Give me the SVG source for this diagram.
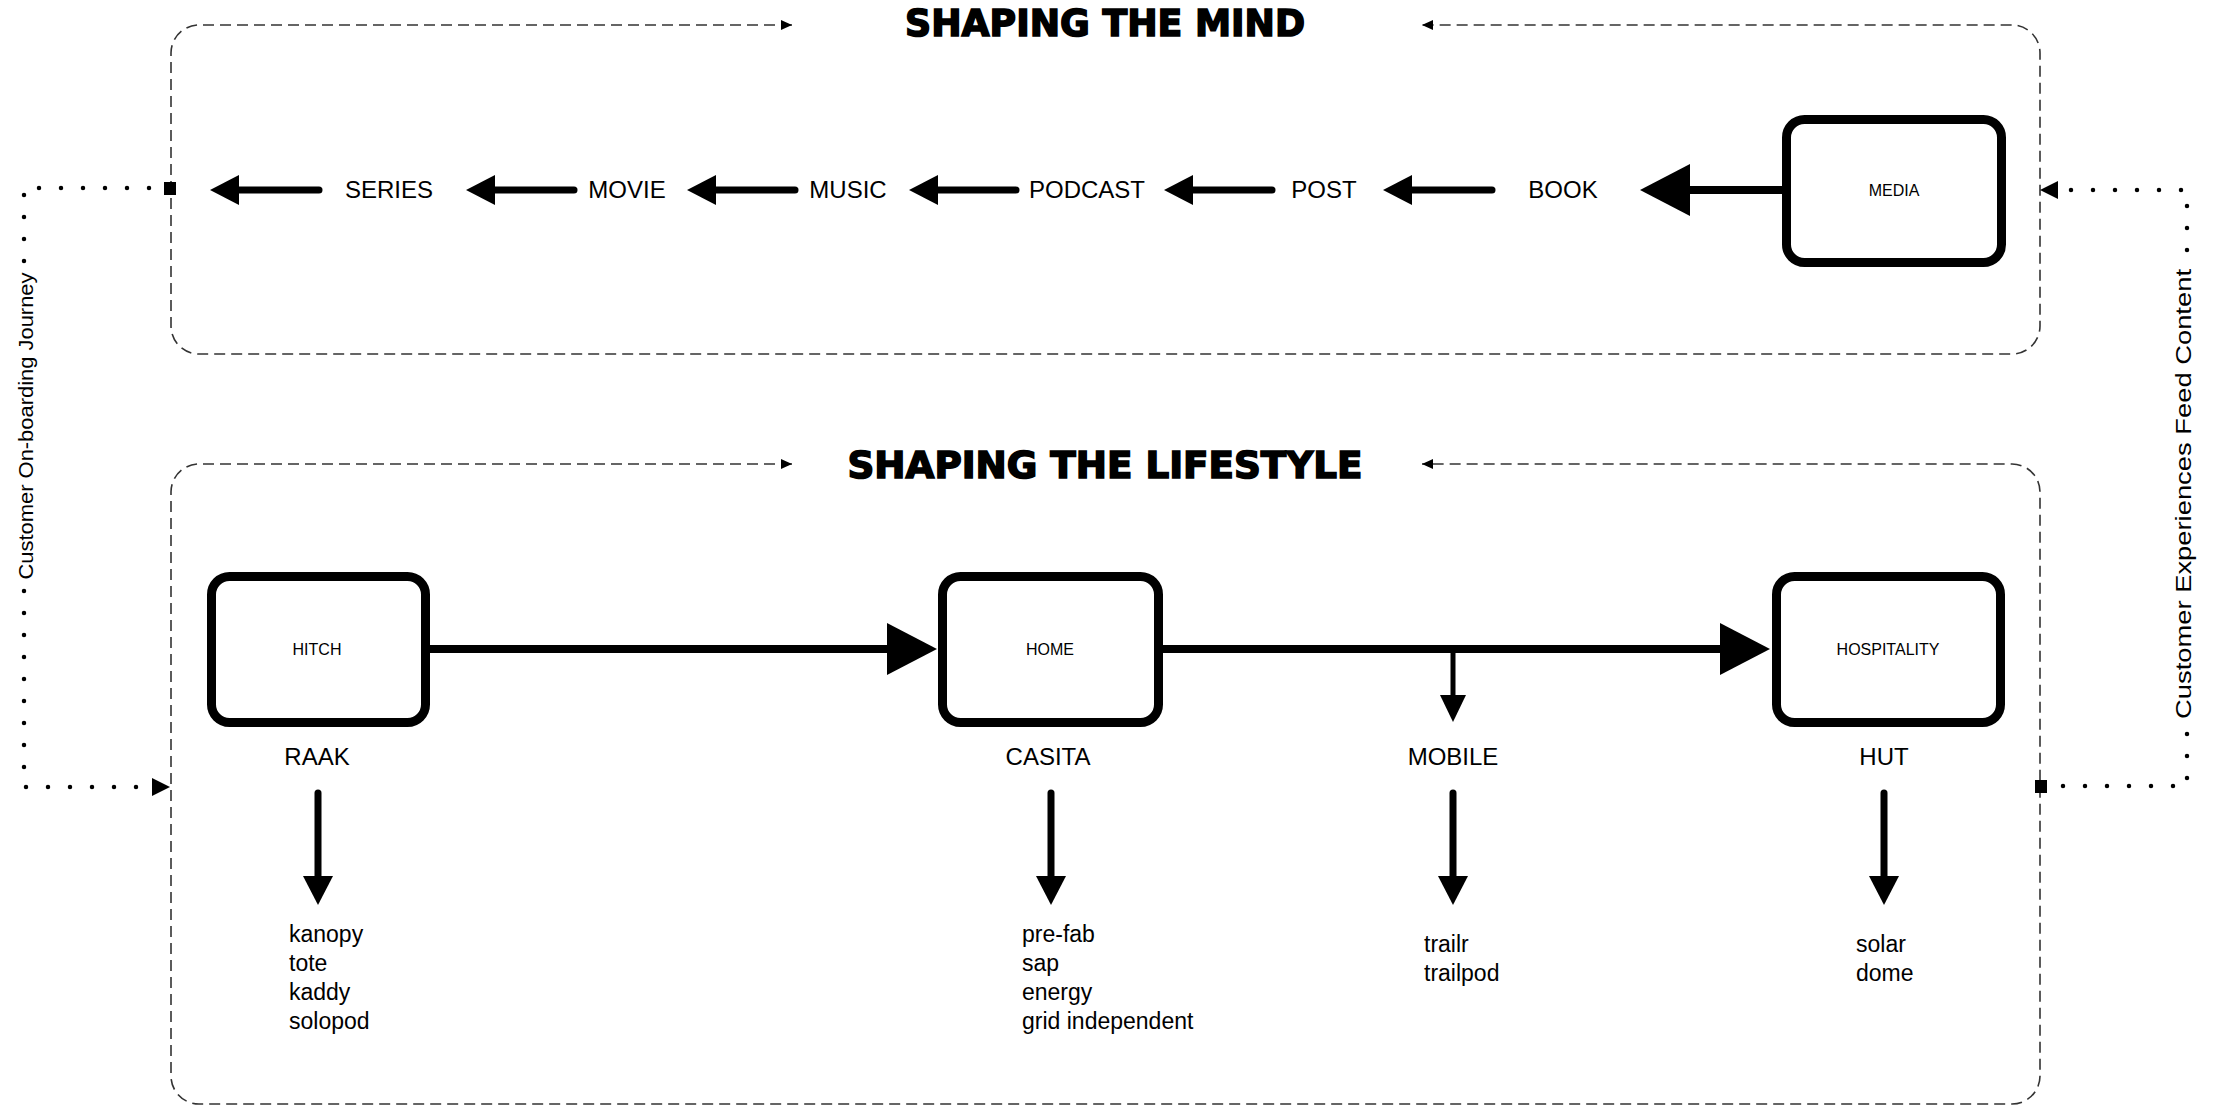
<svg xmlns="http://www.w3.org/2000/svg" width="2218" height="1108" viewBox="0 0 2218 1108">
<style>
.lbl{font-family:"Liberation Sans",Arial,sans-serif;font-size:24px;fill:#000;text-anchor:middle}
.lst{font-family:"Liberation Sans",Arial,sans-serif;font-size:23px;fill:#000}
.box{fill:#fff;stroke:#000;stroke-width:9}
.btxt{font-family:"Liberation Sans",Arial,sans-serif;font-size:16px;fill:#000;text-anchor:middle}
.title{font-family:"DejaVu Sans",sans-serif;font-weight:bold;font-size:37px;fill:#000;stroke:#000;stroke-width:1.6;text-anchor:middle}
.side{font-family:"Liberation Sans",Arial,sans-serif;fill:#000;text-anchor:middle}
.dash{fill:none;stroke:#333;stroke-width:1.6;stroke-dasharray:11 6}
.dot{fill:none;stroke:#000;stroke-width:4.5;stroke-linecap:round;stroke-dasharray:0 22}
.thick{fill:none;stroke:#000;stroke-width:7;stroke-linecap:round}
.main{fill:none;stroke:#000;stroke-width:8}
</style>
<defs>
<marker id="aSm" markerUnits="userSpaceOnUse" viewBox="0 0 29 30" markerWidth="29" markerHeight="30" refX="1" refY="15" orient="auto"><path d="M0,0 L29,15 L0,30 z" fill="#000"/></marker>
<marker id="aBig" markerUnits="userSpaceOnUse" viewBox="0 0 50 52" markerWidth="50" markerHeight="52" refX="1" refY="26" orient="auto"><path d="M0,0 L50,26 L0,52 z" fill="#000"/></marker>
<marker id="aMid" markerUnits="userSpaceOnUse" viewBox="0 0 27 26" markerWidth="27" markerHeight="26" refX="1" refY="13" orient="auto"><path d="M0,0 L27,13 L0,26 z" fill="#000"/></marker>
<marker id="aDash" markerUnits="userSpaceOnUse" viewBox="0 0 11 10" markerWidth="11" markerHeight="10" refX="11" refY="5" orient="auto-start-reverse"><path d="M0,0 L11,5 L0,10 z" fill="#000"/></marker>
<marker id="aDot" markerUnits="userSpaceOnUse" viewBox="0 0 18 18" markerWidth="18" markerHeight="18" refX="0" refY="9" orient="auto"><path d="M0,0 L18,9 L0,18 z" fill="#000"/></marker>
</defs>

<g id="frames">
<path class="dash" d="M792 25 H199 A28 28 0 0 0 171 53 V326 A28 28 0 0 0 199 354 H2012 A28 28 0 0 0 2040 326 V53 A28 28 0 0 0 2012 25 H1422" marker-start="url(#aDash)" marker-end="url(#aDash)"/>
<path class="dash" d="M792 464 H199 A28 28 0 0 0 171 492 V1076 A28 28 0 0 0 199 1104 H2012 A28 28 0 0 0 2040 1076 V492 A28 28 0 0 0 2012 464 H1422" marker-start="url(#aDash)" marker-end="url(#aDash)"/>
<text class="title" x="1105" y="36" textLength="400" lengthAdjust="spacingAndGlyphs">SHAPING THE MIND</text>
<text class="title" x="1105" y="478" textLength="515" lengthAdjust="spacingAndGlyphs">SHAPING THE LIFESTYLE</text>
</g>

<g id="connectors">
<path class="thick" d="M319 190 H238" marker-end="url(#aSm)"/>
<path class="thick" d="M574 190 H494" marker-end="url(#aSm)"/>
<path class="thick" d="M795 190 H715" marker-end="url(#aSm)"/>
<path class="thick" d="M1016 190 H937" marker-end="url(#aSm)"/>
<path class="thick" d="M1272 190 H1192" marker-end="url(#aSm)"/>
<path class="thick" d="M1492 190 H1411" marker-end="url(#aSm)"/>
<path class="main" d="M1782 190 H1689" marker-end="url(#aBig)"/>
<path class="main" d="M428 649 H888" marker-end="url(#aBig)"/>
<path class="main" d="M1163 649 H1721" marker-end="url(#aBig)"/>
<path fill="none" stroke="#000" stroke-width="5" d="M1453 649 V696" marker-end="url(#aMid)"/>
<path class="thick" d="M318 793 V877" marker-end="url(#aSm)"/>
<path class="thick" d="M1051 793 V877" marker-end="url(#aSm)"/>
<path class="thick" d="M1453 793 V877" marker-end="url(#aSm)"/>
<path class="thick" d="M1884 793 V877" marker-end="url(#aSm)"/>
<path class="dot" d="M149 188 H24 V787 H152" marker-end="url(#aDot)"/>
<rect x="164" y="182" width="12" height="13" fill="#000"/>
<path class="dot" d="M2063 786 H2187 V190 H2058" marker-end="url(#aDot)"/>
<rect x="2035" y="780" width="12" height="13" fill="#000"/>
<rect x="8" y="268" width="32" height="318" fill="#fff"/>
<text class="side" font-size="21" transform="translate(33 426) rotate(-90)" textLength="307" lengthAdjust="spacingAndGlyphs">Customer On-boarding Journey</text>
<rect x="2170" y="264" width="32" height="460" fill="#fff"/>
<text class="side" font-size="22" transform="translate(2191 494) rotate(-90)" textLength="450" lengthAdjust="spacingAndGlyphs">Customer Experiences Feed Content</text>
</g>

<g id="row-labels">
<text class="lbl" x="389" y="198">SERIES</text>
<text class="lbl" x="627" y="198">MOVIE</text>
<text class="lbl" x="848" y="198">MUSIC</text>
<text class="lbl" x="1087" y="198">PODCAST</text>
<text class="lbl" x="1324" y="198">POST</text>
<text class="lbl" x="1563" y="198">BOOK</text>
</g>

<g id="media"><rect class="box" x="1786.5" y="119.5" width="215" height="143" rx="18"/><text class="btxt" x="1894" y="196">MEDIA</text></g>
<g id="hitch"><rect class="box" x="211.5" y="576.5" width="214" height="146" rx="18"/><text class="btxt" x="317" y="655">HITCH</text></g>
<g id="home"><rect class="box" x="942.5" y="576.5" width="216" height="146" rx="18"/><text class="btxt" x="1050" y="655">HOME</text></g>
<g id="hospitality"><rect class="box" x="1776.5" y="576.5" width="224" height="146" rx="18"/><text class="btxt" x="1888" y="655">HOSPITALITY</text></g>

<g id="raak"><text class="lbl" x="317" y="765">RAAK</text>
<text class="lst" x="289" y="942">kanopy</text><text class="lst" x="289" y="971">tote</text><text class="lst" x="289" y="1000">kaddy</text><text class="lst" x="289" y="1029">solopod</text></g>
<g id="casita"><text class="lbl" x="1048" y="765">CASITA</text>
<text class="lst" x="1022" y="942">pre-fab</text><text class="lst" x="1022" y="971">sap</text><text class="lst" x="1022" y="1000">energy</text><text class="lst" x="1022" y="1029">grid independent</text></g>
<g id="mobile"><text class="lbl" x="1453" y="765">MOBILE</text>
<text class="lst" x="1424" y="952">trailr</text><text class="lst" x="1424" y="981">trailpod</text></g>
<g id="hut"><text class="lbl" x="1884" y="765">HUT</text>
<text class="lst" x="1856" y="952">solar</text><text class="lst" x="1856" y="981">dome</text></g>
</svg>
